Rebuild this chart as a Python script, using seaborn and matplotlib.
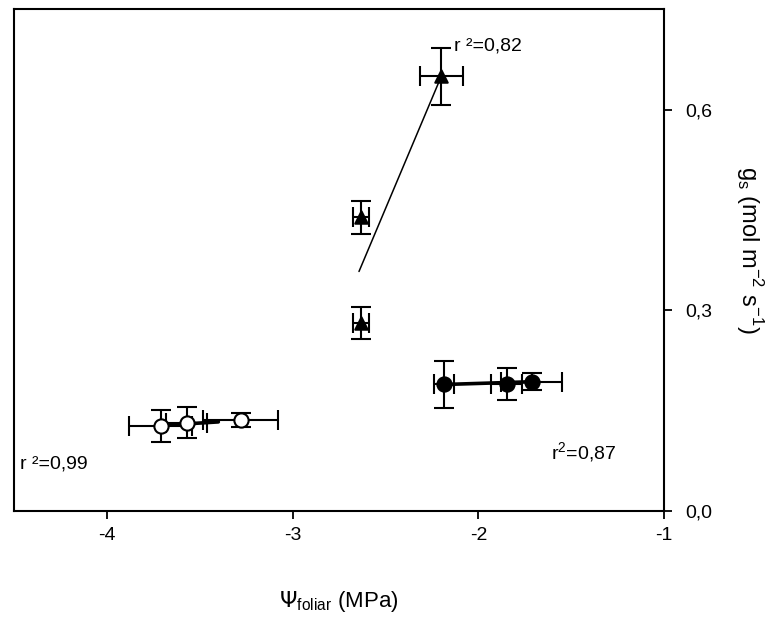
import numpy as np
import pandas as pd
import matplotlib
matplotlib.use("Agg")
import matplotlib.pyplot as plt
import seaborn as sns

sns.set_style("ticks")
plt.rcParams['font.family'] = ['Liberation Sans', 'DejaVu Sans']
plt.rcParams['text.color'] = 'black'
plt.rcParams['axes.labelcolor'] = 'black'

# open circles (r2 = 0,99)
open_x = [-3.71, -3.57, -3.28]
open_y = [0.127, 0.132, 0.136]
open_xerr = [0.17, 0.11, 0.20]
open_yerr = [0.024, 0.023, 0.011]
open_fit_x = [-3.69, -3.40]
open_fit_y = [0.128, 0.133]

# triangles (r2 = 0,82)
tri_x = [-2.20, -2.632, -2.632]
tri_y = [0.650, 0.439, 0.281]
tri_xerr = [0.115, 0.043, 0.043]
tri_yerr = [0.043, 0.025, 0.024]
tri_fit_x = [-2.643, -2.20]
tri_fit_y = [0.358, 0.650]

# filled circles (r2 = 0,87)
fill_x = [-2.184, -1.849, -1.714]
fill_y = [0.189, 0.190, 0.193]
fill_xerr = [0.054, 0.086, 0.163]
fill_yerr = [0.035, 0.024, 0.013]
fill_fit_x = [-2.18, -1.72]
fill_fit_y = [0.189, 0.193]

x_ticks = [-4, -3, -2, -1]
y_ticks = [0.0, 0.3, 0.6]
y_ticklabels = ["0,0", "0,3", "0,6"]

fig = plt.figure(figsize=(7.76, 6.26), dpi=100)
ax = fig.add_axes([0.018, 0.184, 0.838, 0.802])

groups = [
    (open_x, open_y, open_xerr, open_yerr, open_fit_x, open_fit_y, 'o', 'white', 105, 2.6),
    (tri_x, tri_y, tri_xerr, tri_yerr, tri_fit_x, tri_fit_y, '^', 'black', 80, 1.1),
    (fill_x, fill_y, fill_xerr, fill_yerr, fill_fit_x, fill_fit_y, 'o', 'black', 105, 2.6),
]
for gx, gy, gxe, gye, fx, fy, mk, fc, sz, lw in groups:
    ax.errorbar(gx, gy, xerr=gxe, yerr=gye, fmt='none', ecolor='black',
                elinewidth=1.5, capsize=7, capthick=1.5, zorder=2)
    sns.lineplot(x=fx, y=fy, color='black', linewidth=lw, ax=ax, zorder=3)
    df = pd.DataFrame({'x': gx, 'y': gy})
    sns.scatterplot(data=df, x='x', y='y', marker=mk, color=fc, edgecolor='black',
                    linewidth=1.5, s=sz, ax=ax, zorder=4)

ax.set_xlim(-4.5, -1)
ax.set_ylim(0, 0.751)
ax.set_xticks(x_ticks)
ax.set_xticklabels([str(t) for t in x_ticks])
ax.yaxis.tick_right()
ax.yaxis.set_label_position("right")
ax.set_yticks(y_ticks)
ax.set_yticklabels(y_ticklabels)
ax.tick_params(axis='both', direction='out', length=6, width=1.3, labelsize=14,
               colors='black', pad=6)
ax.tick_params(axis='y', pad=9)
for sp in ax.spines.values():
    sp.set_visible(True)
    sp.set_linewidth(1.5)
    sp.set_color('black')

ax.set_xlabel(r"$\Psi_{\mathregular{foliar}}$ (MPa)", fontsize=16, labelpad=32)
ax.set_ylabel(r"$\mathregular{g_s}$ (mol m$^{\mathregular{-2}}$ s$^{\mathregular{-1}}$)",
              fontsize=17, rotation=270, labelpad=36)
ax.yaxis.set_label_coords(1.155, 0.52)

ax.text(-4.47, 0.07, "r ²=0,99", fontsize=14, ha='left', va='center')
ax.text(-2.13, 0.695, "r ²=0,82", fontsize=14, ha='left', va='center')
ax.text(-1.61, 0.087, r"r$^{\mathregular{2}}$=0,87", fontsize=14, ha='left', va='center')

fig.savefig("out.png", dpi=100)
